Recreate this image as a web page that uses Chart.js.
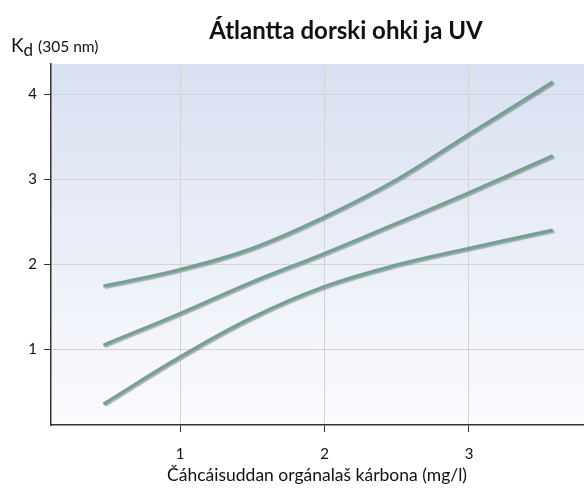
<!DOCTYPE html>
<html>
<head>
<meta charset="utf-8">
<script src="https://cdn.jsdelivr.net/npm/chart.js@4.4.1/dist/chart.umd.min.js"></script>
<style>
  html, body { margin: 0; padding: 0; background: #fff; }
  #wrap { width: 584px; height: 490px; }
</style>
</head>
<body>
<div id="wrap"><canvas id="kdChart" width="584" height="490"></canvas></div>
<script>
// data
const doc = [0.47, 1, 1.5, 2, 2.5, 3, 3.58];
const upper = [1.745, 1.94, 2.19, 2.56, 3.0, 3.535, 4.15];
const middle = [1.05, 1.424, 1.795, 2.13, 2.485, 2.845, 3.28];
const lower = [0.356, 0.91, 1.375, 1.74, 1.995, 2.19, 2.405];
const xTicks = [1, 2, 3];
const yTicks = [1, 2, 3, 4];

const titleText = "Átlantta dorski ohki ja UV";
const xTitle = "Čáhcáisuddan orgánalaš kárbona (mg/l)";

const lineColor = '#72a092';
const FONT = 'Lato, "Open Sans", sans-serif';

function pts(ys) {
    return doc.map((x, i) => ({ x: x, y: ys[i] }));
}

const plotBg = {
    id: 'plotBg',
    beforeDraw(chart) {
        const { ctx, chartArea: a } = chart;
        const g = ctx.createLinearGradient(0, a.top, 0, a.bottom);
        g.addColorStop(0, '#d8e1f2');
        g.addColorStop(1, '#fbfbfd');
        ctx.save();
        ctx.fillStyle = g;
        ctx.fillRect(a.left, a.top, a.right - a.left, a.bottom - a.top);
        ctx.restore();
    }
};

const lineShadow = {
    id: 'lineShadow',
    beforeDatasetsDraw(chart) {
        const ctx = chart.ctx;
        ctx.save();
        ctx.shadowColor = 'rgba(110,110,110,0.55)';
        ctx.shadowOffsetX = 1.5;
        ctx.shadowOffsetY = 1.5;
        ctx.shadowBlur = 1;
    },
    afterDatasetsDraw(chart) {
        chart.ctx.restore();
    }
};

const texts = {
    id: 'texts',
    afterDraw(chart) {
        const { ctx } = chart;
        ctx.save();
        ctx.fillStyle = '#111';
        ctx.textBaseline = 'alphabetic';
        // title
        ctx.font = 'bold 24px ' + FONT;
        ctx.textAlign = 'center';
        ctx.fillText(titleText, 346, 39);
        // x axis title
        ctx.font = '17.5px ' + FONT;
        ctx.fillText(xTitle, 317, 481);
        // y axis title, K with subscript d
        ctx.textAlign = 'left';
        ctx.font = '19px ' + FONT;
        ctx.fillText('K', 11, 52);
        const kw = ctx.measureText('K').width;
        ctx.font = '17px ' + FONT;
        ctx.fillText('d', 11 + kw, 56);
        const dw = ctx.measureText('d').width;
        ctx.font = '15.5px ' + FONT;
        ctx.fillText('(305 nm)', 11 + kw + dw + 5, 52);
        ctx.restore();
    }
};

function ds(label, ys) {
    return {
        label: label,
        data: pts(ys),
        borderColor: lineColor,
        borderWidth: 3,
        pointRadius: 0,
        fill: false,
        tension: 0.4,
        borderCapStyle: 'butt'
    };
}

new Chart(document.getElementById('kdChart'), {
    type: 'line',
    data: {
        datasets: [
            ds('upper', upper),
            ds('middle', middle),
            ds('lower', lower)
        ]
    },
    options: {
        responsive: false,
        animation: false,
        layout: { padding: { top: 64, right: 0, left: 0, bottom: 0 } },
        plugins: {
            legend: { display: false },
            title: { display: false },
            tooltip: { enabled: false }
        },
        scales: {
            x: {
                type: 'linear',
                min: 0.107,
                max: 3.796,
                afterBuildTicks(scale) {
                    scale.ticks = xTicks.map(v => ({ value: v }));
                },
                afterFit(scale) { scale.height = 65; },
                grid: { color: '#d4d4d4', tickColor: '#333', tickLength: 7, lineWidth: 1 },
                border: { color: '#333', width: 1.5 },
                ticks: {
                    color: '#111',
                    padding: 13,
                    font: { family: FONT, size: 15 },
                    maxRotation: 0
                }
            },
            y: {
                type: 'linear',
                min: 0.108,
                max: 4.36,
                afterBuildTicks(scale) {
                    scale.ticks = yTicks.map(v => ({ value: v }));
                },
                afterFit(scale) { scale.width = 51; },
                grid: { color: '#d4d4d4', tickColor: '#333', tickLength: 7, lineWidth: 1 },
                border: { color: '#333', width: 1.5 },
                ticks: {
                    color: '#111',
                    padding: 7,
                    font: { family: FONT, size: 15 }
                }
            }
        }
    },
    plugins: [plotBg, lineShadow, texts]
});
</script>
</body>
</html>
